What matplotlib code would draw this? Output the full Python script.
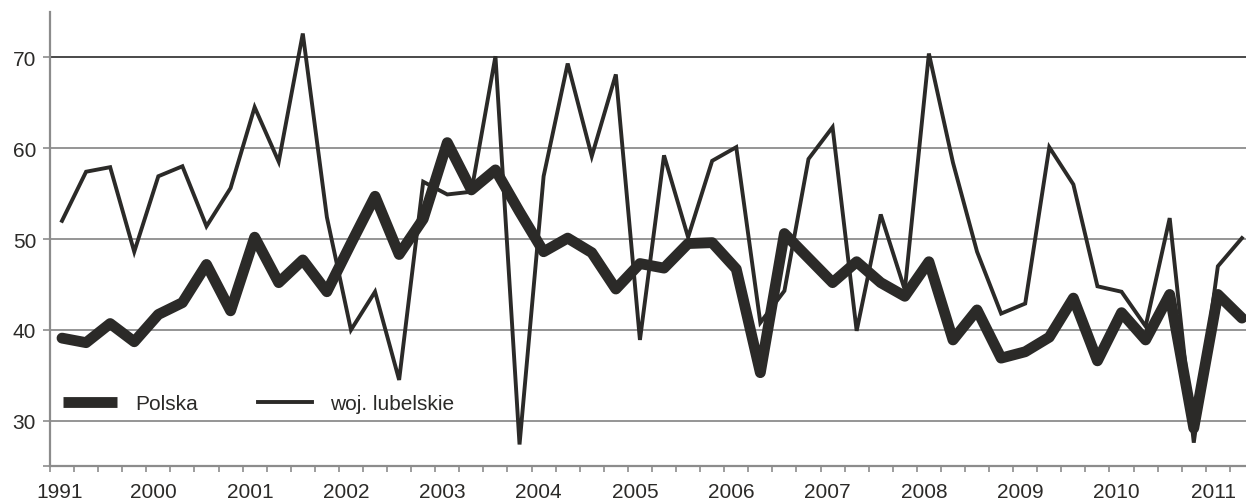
import numpy as np
from matplotlib import pyplot as plt
from matplotlib.ticker import FixedLocator

plt.rcParams['font.family'] = ['Liberation Sans', 'DejaVu Sans']

# quarterly values
polska = [39.1, 38.6, 40.7, 38.7, 41.7, 43.0, 47.2, 42.1, 50.2, 45.2,
          47.7, 44.2, 49.5, 54.7, 48.3, 52.2, 60.6, 55.4, 57.6, 53.0,
          48.6, 50.1, 48.5, 44.5, 47.3, 46.8, 49.5, 49.6, 46.7, 35.3,
          50.6, 47.9, 45.2, 47.5, 45.2, 43.7, 47.5, 38.9, 42.2, 36.9,
          37.6, 39.2, 43.5, 36.6, 41.9, 38.9, 43.9, 29.2, 43.9, 41.3]
lubelskie = [52.0, 57.4, 57.9, 48.6, 56.9, 58.0, 51.4, 55.6, 64.5, 58.5,
             72.6, 52.4, 40.0, 44.2, 34.5, 56.3, 54.9, 55.2, 70.1, 27.4,
             56.9, 69.3, 59.1, 68.1, 38.9, 59.2, 50.2, 58.6, 60.1, 40.8,
             44.3, 58.8, 62.3, 39.9, 52.7, 44.4, 70.4, 58.4, 48.6, 41.8,
             42.9, 60.1, 56.0, 44.8, 44.2, 40.4, 52.3, 27.6, 47.0, 50.1]
year_labels = ['1991', '2000', '2001', '2002', '2003', '2004', '2005',
               '2006', '2007', '2008', '2009', '2010', '2011']
y_ticks = [30, 40, 50, 60, 70]

ink = '#2b2a28'
axis_grey = '#8c8c8c'

x = np.arange(len(polska))

fig = plt.figure(figsize=(12.46, 5.02), dpi=100)
ax = fig.add_axes([0.0401, 0.0691, 0.9663, 0.9056])

for v in y_ticks:
	ax.axhline(v, color='#3a3a3a' if v == 70 else axis_grey, lw=1.3, zorder=1)

ax.plot(x, polska, color=ink, lw=7.8, solid_joinstyle='round',
		solid_capstyle='round', label='Polska', zorder=3)
ax.plot(x, lubelskie, color=ink, lw=2.8, solid_joinstyle='miter',
		label='woj. lubelskie', zorder=4)

ax.set_xlim(-0.5, len(polska) - 0.5)
ax.set_ylim(25, 75)

# labels sit under every fourth quarter, tick marks between quarters
label_pos = [-0.1] + [4 * k - 0.2 for k in range(1, len(year_labels))]
ax.xaxis.set_major_locator(FixedLocator(label_pos))
ax.set_xticklabels(year_labels)
ax.xaxis.set_minor_locator(FixedLocator(np.arange(-0.5, len(polska), 1.0)))
ax.tick_params(axis='x', which='major', length=0, pad=11,
			   labelsize=15, labelcolor=ink)
ax.tick_params(axis='x', which='minor', length=4.5, width=1.2,
			   color=axis_grey)

ax.yaxis.set_major_locator(FixedLocator(y_ticks))
ax.yaxis.set_minor_locator(FixedLocator([25]))
ax.tick_params(axis='y', which='major', length=5, width=1.2, pad=5,
			   color=axis_grey, labelsize=15, labelcolor=ink)
ax.tick_params(axis='y', which='minor', length=5, width=1.2,
			   color=axis_grey)

for side in ['top', 'right']:
	ax.spines[side].set_visible(False)
for side in ['left', 'bottom']:
	ax.spines[side].set_color(axis_grey)
	ax.spines[side].set_linewidth(1.6)

leg = ax.legend(loc='center left', bbox_to_anchor=(63 / 1246, 1 - 405 / 502),
				bbox_transform=fig.transFigure, ncol=2, frameon=False,
				fontsize=15, handlelength=2.6, handletextpad=0.85,
				columnspacing=2.9, borderpad=0, borderaxespad=0)
for t in leg.get_texts():
	t.set_color(ink)
leg.get_lines()[0].set_solid_capstyle('butt')

fig.savefig('out.png', dpi=100)
